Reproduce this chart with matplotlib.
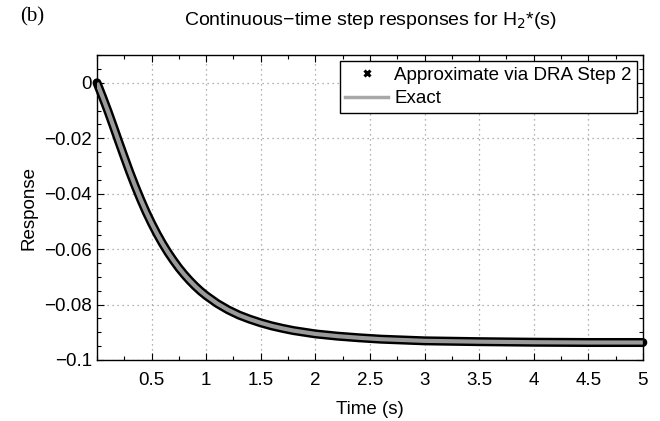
import numpy as np
import matplotlib
matplotlib.use('Agg')
import matplotlib.pyplot as plt
from matplotlib.lines import Line2D
from matplotlib.ticker import MultipleLocator

plt.rcParams['font.family'] = ['Liberation Sans', 'DejaVu Sans']

# values
time_s = [0.00, 0.05, 0.10, 0.15, 0.20, 0.25, 0.30, 0.35, 0.40, 0.45, 0.50,
          0.55, 0.60, 0.65, 0.70, 0.75, 0.80, 0.85, 0.90, 0.95, 1.00, 1.10,
          1.20, 1.30, 1.40, 1.50, 1.60, 1.70, 1.80, 1.90, 2.00, 2.20, 2.40,
          2.60, 2.80, 3.00, 3.50, 4.00, 4.50, 5.00]
resp_exact = [0, -0.0050, -0.0102, -0.0157, -0.0213, -0.0268, -0.0322, -0.0373,
              -0.0421, -0.0466, -0.0507, -0.0545, -0.0580, -0.0612, -0.0641,
              -0.0668, -0.0692, -0.0714, -0.0734, -0.0752, -0.0768, -0.0796,
              -0.0819, -0.0838, -0.0853, -0.0866, -0.0877, -0.0886, -0.0894,
              -0.0900, -0.0906, -0.0914, -0.0920, -0.0925, -0.0928, -0.0931,
              -0.0934, -0.0936, -0.0937, -0.0937]
resp_approx = list(resp_exact)  # DRA step 2 lies on top of the exact curve

xticks = [0.5, 1, 1.5, 2, 2.5, 3, 3.5, 4, 4.5, 5]
xtick_labels = ['0.5', '1', '1.5', '2', '2.5', '3', '3.5', '4', '4.5', '5']
yticks = [0, -0.02, -0.04, -0.06, -0.08, -0.1]
ytick_labels = ['0', '\u22120.02', '\u22120.04', '\u22120.06', '\u22120.08', '\u22120.1']

fig = plt.figure(figsize=(6.6, 4.21), dpi=100)
ax = fig.add_axes([0.147, 0.145, 0.827, 0.724])

# approximation: dense black crosses -> thick black band
ax.plot(time_s, resp_approx, color='black', lw=6.5, solid_capstyle='round',
        solid_joinstyle='round', clip_on=False, zorder=3)
ax.plot(time_s, resp_exact, color='#9a9a9a', lw=3, solid_capstyle='butt', zorder=4)

ax.set_xlim(0, 5)
ax.set_ylim(-0.1, 0.01)
ax.set_xticks(xticks)
ax.set_xticklabels(xtick_labels)
ax.set_yticks(yticks)
ax.set_yticklabels(ytick_labels)
ax.xaxis.set_minor_locator(MultipleLocator(0.25))
ax.yaxis.set_minor_locator(MultipleLocator(0.005))
ax.tick_params(which='both', direction='in', top=True, right=True, labelsize=13.5,
               width=0.8)
ax.tick_params(which='major', length=5)
ax.tick_params(which='minor', length=3)
ax.tick_params(axis='x', pad=9)
ax.grid(True, which='major', linestyle=(0, (1, 3)), color='#999999', lw=0.9)
for s in ax.spines.values():
    s.set_linewidth(1.0)

ax.set_xlabel('Time (s)', fontsize=13.5, labelpad=8)
ax.set_ylabel('Response', fontsize=13.5, labelpad=5)
ax.set_title('Continuous\u2212time step responses for H$_2$*(s)', fontsize=14, pad=22)
fig.text(0.03, 0.96, '(b)', fontsize=15, family=['Liberation Serif', 'DejaVu Serif'],
         va='center', ha='left')

handles = [Line2D([], [], ls='none', marker='x', color='black', ms=4.5, mew=2.2),
           Line2D([], [], color='#a8a8a8', lw=2.5)]
leg = ax.legend(handles, ['Approximate via DRA Step 2', 'Exact'], loc='upper right',
                fontsize=13.5, frameon=True, fancybox=False, framealpha=1,
                edgecolor='black', borderpad=0.3, labelspacing=0.35,
                handlelength=2.3, handletextpad=0.3, borderaxespad=0.3)
leg.get_frame().set_linewidth(1.0)

fig.savefig('out.png', dpi=100)
